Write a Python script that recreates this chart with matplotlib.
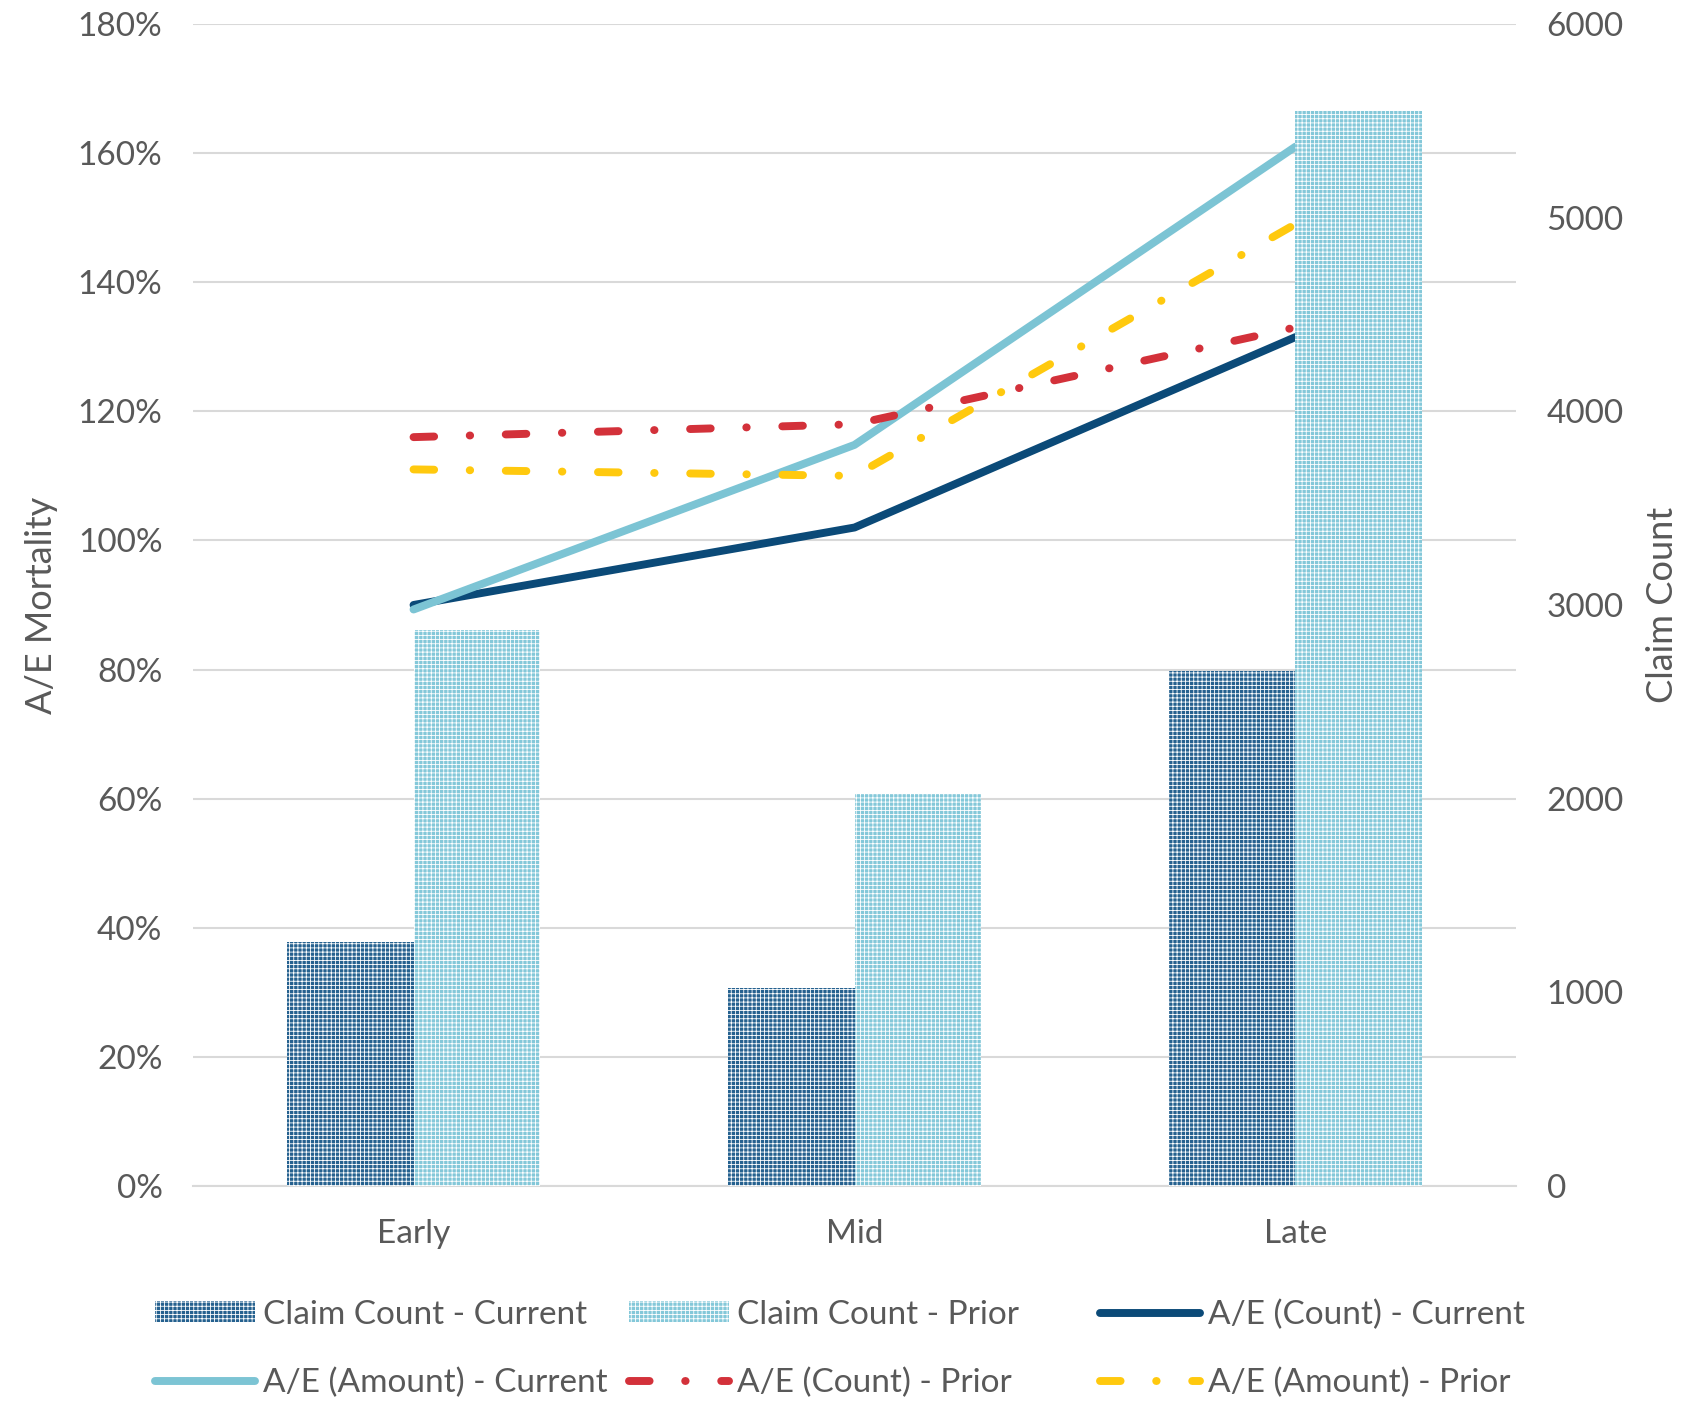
import matplotlib
matplotlib.use("Agg")
import matplotlib.pyplot as plt
import numpy as np
from matplotlib.lines import Line2D
from matplotlib.patches import Patch

plt.rcParams['font.family'] = ['Lato', 'DejaVu Sans']
plt.rcParams['hatch.linewidth'] = 0.6

# data
categories = ["Early", "Mid", "Late"]
claims_current = [1260, 1020, 2660]
claims_prior = [2870, 2025, 5550]
ae_count_current = [0.90, 1.02, 1.315]
ae_amount_current = [0.893, 1.148, 1.61]
ae_count_prior = [1.16, 1.18, 1.33]
ae_amount_prior = [1.11, 1.10, 1.49]

TXT = '#595959'
NAVY = '#0b4a78'
LIGHT = '#7cc4d4'
RED = '#d3313a'
GOLD = '#ffc90e'
BAR_CUR = '#25618f'
BAR_PRI = '#84c8d9'
HATCH = '++++'

fig = plt.figure(figsize=(16.98, 14.03), dpi=100)
ax = fig.add_axes([0.1137, 0.1547, 0.7791, 0.8282])
ax2 = ax.twinx()

x = np.arange(len(categories))
w = 0.287

# bars on the right (count) axis
ax2.bar(x - w / 2, claims_current, width=w, color=BAR_CUR, hatch=HATCH,
        edgecolor='white', linewidth=0)
ax2.bar(x + w / 2, claims_prior, width=w, color=BAR_PRI, hatch=HATCH,
        edgecolor='white', linewidth=0)

# A/E lines on the left axis
lw = 5.7
ax.plot(x, ae_count_current, color=NAVY, lw=lw, solid_capstyle='round')
ax.plot(x, ae_amount_current, color=LIGHT, lw=lw, solid_capstyle='round')
dashdot = (2.6, 4.5, 0.05, 4.5)
ax.plot(x, ae_count_prior, color=RED, lw=lw, dashes=dashdot, dash_capstyle='round')
ax.plot(x, ae_amount_prior, color=GOLD, lw=lw, dashes=dashdot, dash_capstyle='round')

ax.set_xlim(-0.5, 2.5)
ax.set_ylim(0, 1.8)
ax2.set_ylim(0, 6000)
ax.set_yticks(np.arange(0, 1.81, 0.2))
ax.set_yticklabels([f"{int(round(v * 100))}%" for v in np.arange(0, 1.81, 0.2)])
ax2.set_yticks(np.arange(0, 6001, 1000))
ax.set_xticks(x)
ax.set_xticklabels(categories)

ax.grid(axis='y', color='#d9d9d9', lw=1.5)
ax.set_axisbelow(True)
for a in (ax, ax2):
    for s in a.spines.values():
        s.set_visible(False)
ax.spines['bottom'].set_visible(True)
ax.spines['bottom'].set_color('#d9d9d9')
ax.spines['bottom'].set_linewidth(1.5)

FS = 24
ax.tick_params(axis='y', length=0, pad=22, labelsize=FS, labelcolor=TXT)
ax.tick_params(axis='x', length=0, pad=24, labelsize=FS, labelcolor=TXT)
ax2.tick_params(axis='y', length=0, pad=22, labelsize=FS, labelcolor=TXT)
ax.set_ylabel("A/E Mortality", fontsize=26, color=TXT, labelpad=14)
ax2.set_ylabel("Claim Count", fontsize=26, color=TXT, labelpad=16)

# legend: three equal-width columns, two rows each
h_cc_cur = Patch(facecolor=BAR_CUR, hatch=HATCH, edgecolor='white', linewidth=0)
h_cc_pri = Patch(facecolor=BAR_PRI, hatch=HATCH, edgecolor='white', linewidth=0)
h_cnt_cur = Line2D([], [], color=NAVY, lw=lw, solid_capstyle='round')
h_amt_cur = Line2D([], [], color=LIGHT, lw=lw, solid_capstyle='round')
h_cnt_pri = Line2D([], [], color=RED, lw=lw, dashes=dashdot, dash_capstyle='round')
h_amt_pri = Line2D([], [], color=GOLD, lw=lw, dashes=dashdot, dash_capstyle='round')
columns = [
    ([h_cc_cur, h_amt_cur], ["Claim Count - Current", "A/E (Amount) - Current"]),
    ([h_cc_pri, h_cnt_pri], ["Claim Count - Prior", "A/E (Count) - Prior"]),
    ([h_cnt_cur, h_amt_pri], ["A/E (Count) - Current", "A/E (Amount) - Prior"]),
]
col_x = [0.0913, 0.3704, 0.6478]
for cx, (hs, ls) in zip(col_x, columns):
    fig.legend(hs, ls, loc='center left', bbox_to_anchor=(cx, 0.0385),
               frameon=False, fontsize=FS, labelcolor=TXT, handlelength=3.0,
               handleheight=0.6, handletextpad=0.25, labelspacing=1.15,
               borderpad=0, borderaxespad=0)

fig.savefig("out.png", dpi=100)
